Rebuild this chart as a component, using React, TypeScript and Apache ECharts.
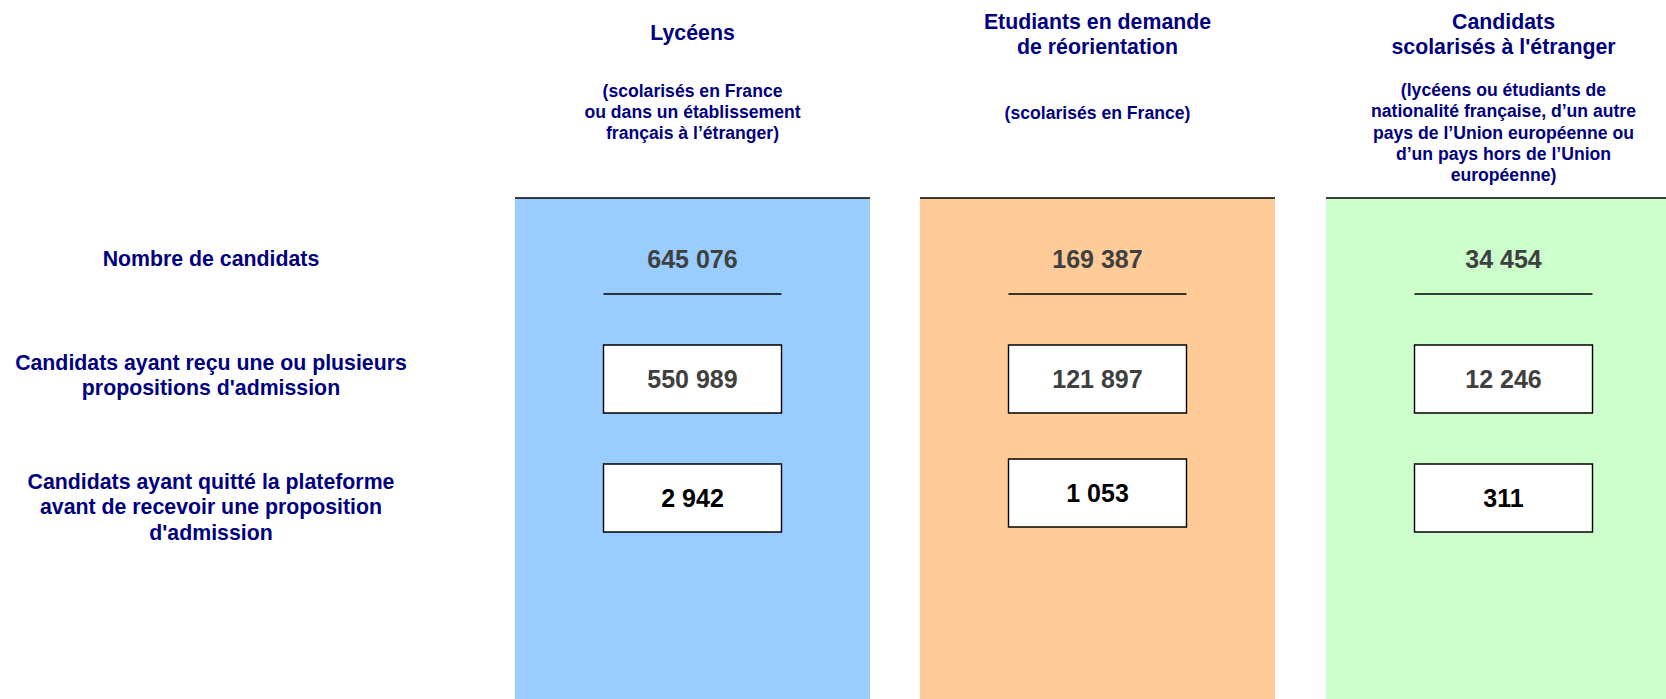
import React, { useEffect, useRef } from "react";
import * as echarts from "echarts";

// ---- Data ----
const groupTitles = ["Lycéens", "Etudiants en demande\nde réorientation", "Candidats\nscolarisés à l'étranger"];
const groupNotes = [
  "(scolarisés en France\nou dans un établissement\nfrançais à l’étranger)",
  "(scolarisés en France)",
  "(lycéens ou étudiants de\nnationalité française, d’un autre\npays de l’Union européenne ou\nd’un pays hors de l’Union\neuropéenne)",
];
const rowLabels = [
  "Nombre de candidats",
  "Candidats ayant reçu une ou plusieurs\npropositions d'admission",
  "Candidats ayant quitté la plateforme\navant de recevoir une proposition\nd'admission",
];
const nombreCandidats = [645076, 169387, 34454];
const avecProposition = [550989, 121897, 12246];
const quitteAvant = [2942, 1053, 311];

// ---- Styles / layout ----
const W = 1666;
const H = 699;
const FONT = '"Liberation Sans", Arial, Helvetica, sans-serif';
const NAVY = "#000080";
const colColors = ["#99CCFF", "#FFCC99", "#CCFFCC"];
const colLeft = [515, 920, 1326];
const colWidth = 355;
const colTop = 198;
const titleY = [33, 34.2, 34.2];
const noteY = [112, 112.7, 132.6];
const rowLabelX = 211;
const rowLabelY = [258.5, 375.5, 507.2];
const firstNumY = 259;
const sepY = 294;
const boxW = 178;
const boxH = 68;
const box1Top = [345, 345, 345];
const box2Top = [464, 459, 464];

const fmt = (v: number) => String(v).replace(/\B(?=(\d{3})+(?!\d))/g, " ");

export default function App() {
  const ref = useRef<HTMLDivElement>(null);
  useEffect(() => {
    document.body.style.margin = "0";
    const chart = echarts.init(ref.current!, null, { renderer: "svg", width: W, height: H });
    const els: any[] = [];
    colLeft.forEach((left, i) => {
      const cx = left + colWidth / 2;
      els.push({
        type: "rect",
        shape: { x: left, y: colTop, width: colWidth, height: H - colTop + 5 },
        style: { fill: colColors[i] },
        silent: true,
      });
      els.push({
        type: "line",
        shape: { x1: left, y1: colTop, x2: left + colWidth, y2: colTop },
        style: { stroke: "#000", lineWidth: 1.3 },
      });
      els.push({
        type: "text",
        x: cx,
        y: titleY[i],
        style: {
          text: groupTitles[i],
          textAlign: "center",
          textVerticalAlign: "middle",
          font: `bold 21.3px ${FONT}`,
          lineHeight: 25,
          fill: NAVY,
        },
      });
      els.push({
        type: "text",
        x: cx,
        y: noteY[i],
        style: {
          text: groupNotes[i],
          textAlign: "center",
          textVerticalAlign: "middle",
          font: `bold 17.6px ${FONT}`,
          lineHeight: 21.4,
          fill: NAVY,
        },
      });
      // first number
      els.push({
        type: "text",
        x: cx,
        y: firstNumY,
        style: {
          text: fmt(nombreCandidats[i]),
          textAlign: "center",
          textVerticalAlign: "middle",
          font: `bold 25px ${FONT}`,
          fill: "#404040",
        },
      });
      els.push({
        type: "line",
        shape: { x1: cx - boxW / 2, y1: sepY, x2: cx + boxW / 2, y2: sepY },
        style: { stroke: "#000", lineWidth: 1.3 },
      });
      // boxes
      [
        { top: box1Top[i], v: avecProposition[i], c: "#404040" },
        { top: box2Top[i], v: quitteAvant[i], c: "#000000" },
      ].forEach((b) => {
        els.push({
          type: "rect",
          shape: { x: cx - boxW / 2, y: b.top, width: boxW, height: boxH },
          style: { fill: "#ffffff", stroke: "#000", lineWidth: 1.4 },
        });
        els.push({
          type: "text",
          x: cx,
          y: b.top + boxH / 2,
          style: {
            text: fmt(b.v),
            textAlign: "center",
            textVerticalAlign: "middle",
            font: `bold 25px ${FONT}`,
            fill: b.c,
          },
        });
      });
    });
    rowLabels.forEach((t, r) => {
      els.push({
        type: "text",
        x: rowLabelX,
        y: rowLabelY[r],
        style: {
          text: t,
          textAlign: "center",
          textVerticalAlign: "middle",
          font: `bold 21.3px ${FONT}`,
          lineHeight: 25.5,
          fill: NAVY,
        },
      });
    });
    chart.setOption({
      animation: false,
      backgroundColor: "#ffffff",
      graphic: { elements: els },
    });
    return () => chart.dispose();
  }, []);
  return (
    <div
      ref={ref}
      style={{ position: "absolute", left: 0, top: 0, width: W, height: H, overflow: "hidden" }}
    />
  );
}
